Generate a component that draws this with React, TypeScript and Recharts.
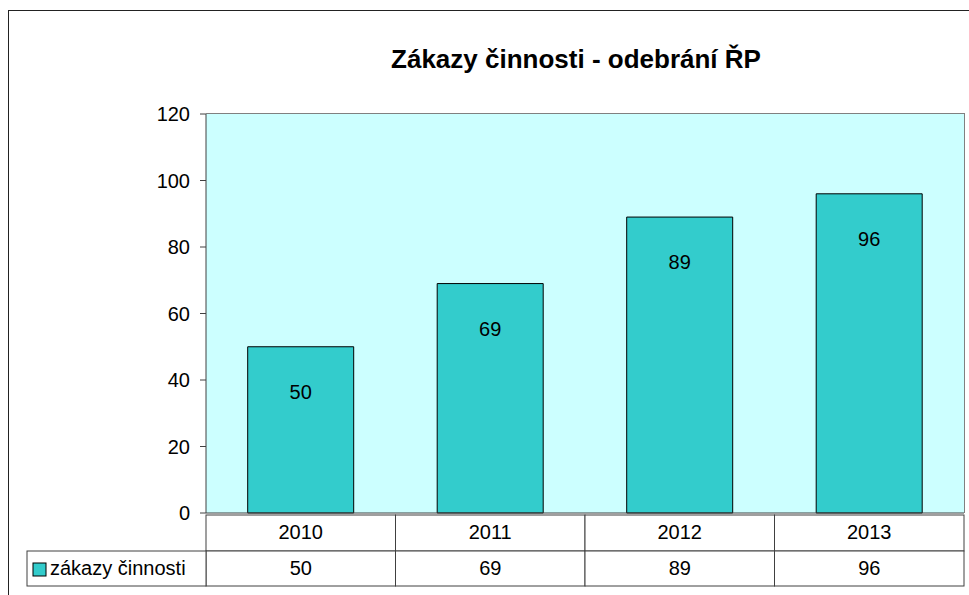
import { Bar, BarChart, CartesianGrid, LabelList, XAxis, YAxis } from 'recharts';

const years = ['2010', '2011', '2012', '2013'];
const zakazy = [50, 69, 89, 96];
const yTicks = [0, 20, 40, 60, 80, 100, 120];
const seriesName = 'zákazy činnosti';
const title = 'Zákazy činnosti - odebrání ŘP';

const FONT = '"Liberation Sans", Arial, sans-serif';
const W = 969;
const H = 595;
const PLOT_LEFT = 206;
const PLOT_RIGHT = 964;
const PLOT_TOP = 114;
const PLOT_BOTTOM = 513;
const ROW1 = 36;
const ROW2 = 35;
const LEGEND_LEFT = 27;
const LINE = '#404040';
const TXT = 20;

const data = years.map((year, i) => ({ year, value: zakazy[i] }));

/** Draws one column of the data table underneath the plot. */
function TableTick(props: any) {
  const { x, y, payload, index } = props;
  const band = (PLOT_RIGHT - PLOT_LEFT) / years.length;
  const left = x - band / 2;
  return (
    <g>
      <rect x={left} y={y} width={band} height={ROW1} fill="#fff" stroke={LINE} />
      <text x={x} y={y + ROW1 / 2 + 1} textAnchor="middle" dominantBaseline="middle"
        fontSize={TXT} fontFamily={FONT} fill="#000">
        {payload.value}
      </text>
      <rect x={left} y={y + ROW1} width={band} height={ROW2} fill="#fff" stroke={LINE} />
      <text x={x} y={y + ROW1 + ROW2 / 2 + 1} textAnchor="middle" dominantBaseline="middle"
        fontSize={TXT} fontFamily={FONT} fill="#000">
        {zakazy[index]}
      </text>
      {index === 0 && (
        <g>
          <rect x={LEGEND_LEFT} y={y + ROW1} width={left - LEGEND_LEFT} height={ROW2} fill="#fff" stroke={LINE} />
          <rect x={LEGEND_LEFT + 6} y={y + ROW1 + 12} width={13} height={13} fill="#33CCCC" stroke="#000" />
          <text x={LEGEND_LEFT + 23} y={y + ROW1 + ROW2 / 2 + 1} dominantBaseline="middle"
            fontSize={TXT} fontFamily={FONT} fill="#000">
            {seriesName}
          </text>
        </g>
      )}
    </g>
  );
}

function BarValue(props: any) {
  const { x, y, width, value } = props;
  return (
    <text x={x + width / 2} y={y + 47} textAnchor="middle" dominantBaseline="middle"
      fontSize={TXT} fontFamily={FONT} fill="#000">
      {value}
    </text>
  );
}

export default function App() {
  return (
    <div style={{ position: 'absolute', left: 0, top: 0, width: W, height: H, overflow: 'hidden', background: '#fff' }}>
      <div style={{ position: 'absolute', left: 8, top: 10, width: 1200, height: 1200, border: '1px solid #222' }} />
      <div style={{
        position: 'absolute', left: PLOT_LEFT - 9, width: PLOT_RIGHT - PLOT_LEFT, top: 44, textAlign: 'center',
        fontFamily: FONT, fontWeight: 'bold', fontSize: 26, lineHeight: '30px', color: '#000',
      }}>
        {title}
      </div>
      <div style={{ position: 'absolute', left: 0, top: 0 }}>
        <BarChart
          width={W}
          height={H}
          data={data}
          margin={{ top: PLOT_TOP, right: W - PLOT_RIGHT, bottom: 0, left: 0 }}
          barCategoryGap="22%"
        >
          <CartesianGrid fill="#CCFFFF" stroke="none" horizontal={false} vertical={false} />
          <XAxis
            dataKey="year"
            height={H - PLOT_BOTTOM}
            tickSize={0}
            tickLine={false}
            axisLine={{ stroke: LINE }}
            tick={<TableTick />}
            interval={0}
          />
          <YAxis
            width={PLOT_LEFT}
            domain={[0, 120]}
            ticks={yTicks}
            interval={0}
            tickSize={6}
            tickMargin={10}
            axisLine={{ stroke: LINE }}
            tickLine={{ stroke: LINE }}
            tick={{ fontSize: TXT, fontFamily: FONT, fill: '#000' }}
          />
          <Bar dataKey="value" fill="#33CCCC" stroke="#000" strokeWidth={1} isAnimationActive={false}>
            <LabelList dataKey="value" content={<BarValue />} />
          </Bar>
        </BarChart>
      </div>
      {/* plot-area frame: grey top and right edges */}
      <div style={{
        position: 'absolute', left: PLOT_LEFT, top: PLOT_TOP - 1, width: PLOT_RIGHT - PLOT_LEFT,
        height: PLOT_BOTTOM - PLOT_TOP, borderTop: '1px solid #808080', borderRight: '1px solid #808080',
        pointerEvents: 'none',
      }} />
    </div>
  );
}
